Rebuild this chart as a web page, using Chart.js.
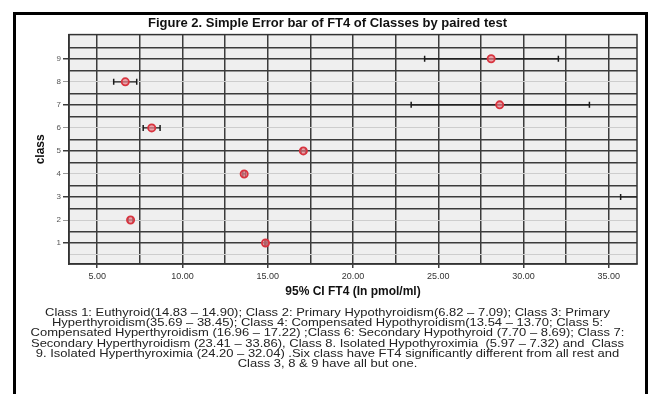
<!DOCTYPE html>
<html>
<head>
<meta charset="utf-8">
<script src="https://cdn.jsdelivr.net/npm/chart.js@4.4.1/dist/chart.umd.min.js"></script>
<style>
  html, body { margin: 0; padding: 0; background: #fff; }
</style>
</head>
<body>
<canvas id="grafico" width="654" height="394"></canvas>
<script>
// Clases y su IC 95% de FT4 (pmol/ml)
const classes = [1, 2, 3, 4, 5, 6, 7, 8, 9];
const ciLow  = [14.83, 6.82, 35.69, 13.54, 16.96, 7.70, 23.41, 5.97, 24.20];
const ciHigh = [14.90, 7.09, 38.45, 13.70, 17.22, 8.69, 33.86, 7.32, 32.04];
const means  = [14.87, 6.96, 37.07, 13.62, 17.09, 8.20, 28.60, 6.65, 28.10];

const xTicks = [5, 7.5, 10, 12.5, 15, 17.5, 20, 22.5, 25, 27.5, 30, 32.5, 35];
const yTicks = [0.5, 1, 1.5, 2, 2.5, 3, 3.5, 4, 4.5, 5, 5.5, 6, 6.5, 7, 7.5, 8, 8.5, 9, 9.5];

const nota = [
    'Class 1: Euthyroid(14.83 \u2013 14.90); Class 2: Primary Hypothyroidism(6.82 \u2013 7.09); Class 3: Primary',
    'Hyperthyroidism(35.69 \u2013 38.45); Class 4: Compensated Hypothyroidism(13.54 \u2013 13.70; Class 5:',
    'Compensated Hyperthyroidism (16.96 \u2013 17.22) ;Class 6: Secondary Hypothyroid (7.70 \u2013 8.69); Class 7:',
    'Secondary Hyperthyroidism (23.41 \u2013 33.86), Class 8. Isolated Hypothyroximia  (5.97 \u2013 7.32) and  Class',
    '9. Isolated Hyperthyroximia (24.20 \u2013 32.04) .Six class have FT4 significantly different from all rest and',
    'Class 3, 8 & 9 have all but one.'
];

const fuente = "'Liberation Sans', Arial, sans-serif";

// fondo gris del área, marco negro exterior
const marco = {
    id: 'marco',
    beforeDraw(chart) {
        const { ctx, chartArea: a } = chart;
        ctx.save();
        ctx.fillStyle = '#fff';
        ctx.fillRect(0, 0, chart.width, chart.height);
        ctx.fillStyle = '#efefef';
        ctx.fillRect(a.left, a.top, a.width, a.height);
        ctx.strokeStyle = '#000';
        ctx.lineWidth = 3;
        ctx.strokeRect(14.5, 13.5, 632, 400);
        ctx.restore();
    }
};

// barras de error (IC 95%)
const barrasError = {
    id: 'barrasError',
    beforeDatasetsDraw(chart) {
        const { ctx, chartArea: a, scales: { x, y } } = chart;
        ctx.save();
        ctx.strokeStyle = '#333';
        ctx.lineWidth = 1.5;
        ctx.strokeRect(a.left, a.top, a.width, a.height);
        ctx.beginPath();
        ctx.rect(a.left, a.top, a.width, a.height);
        ctx.clip();
        ctx.strokeStyle = '#1a1a1a';
        classes.forEach((c, i) => {
            const yy = y.getPixelForValue(c);
            const x0 = x.getPixelForValue(ciLow[i]);
            const x1 = x.getPixelForValue(ciHigh[i]);
            ctx.lineWidth = 1.2;
            ctx.beginPath();
            ctx.moveTo(x0, yy); ctx.lineTo(x1, yy);
            ctx.stroke();
            ctx.lineWidth = 1.5;
            ctx.beginPath();
            ctx.moveTo(x0, yy - 3); ctx.lineTo(x0, yy + 3);
            ctx.moveTo(x1, yy - 3); ctx.lineTo(x1, yy + 3);
            ctx.stroke();
        });
        ctx.restore();
    }
};

// nota al pie, texto algo ensanchado como en el original
const notaPie = {
    id: 'notaPie',
    afterDraw(chart) {
        const { ctx } = chart;
        ctx.save();
        ctx.fillStyle = '#222';
        ctx.font = '11px ' + fuente;
        ctx.textAlign = 'center';
        ctx.textBaseline = 'middle';
        nota.forEach((linea, i) => {
            ctx.save();
            ctx.translate(327.5, 313 + i * 10.2);
            ctx.scale(1.18, 1);
            ctx.fillText(linea, 0, 0);
            ctx.restore();
        });
        ctx.restore();
    }
};

const esPar = (v) => (Number.isInteger(v) && v % 2 === 0) || v === 0.5;

new Chart(document.getElementById('grafico'), {
    type: 'scatter',
    data: {
        datasets: [{
            label: 'FT4',
            data: classes.map((c, i) => ({ x: means[i], y: c })),
            pointRadius: 3.6,
            pointBorderWidth: 1.8,
            borderColor: '#d8343f',
            backgroundColor: 'rgba(235, 130, 140, 0.7)',
            clip: 0
        }]
    },
    options: {
        responsive: false,
        animation: false,
        layout: { padding: { top: 13, left: 18, right: 17, bottom: 90 } },
        plugins: {
            legend: { display: false },
            tooltip: { enabled: false },
            title: {
                display: true,
                text: 'Figure 2. Simple Error bar of FT4 of Classes by paired test',
                color: '#111',
                font: { family: fuente, size: 13, weight: 'bold' },
                padding: { top: 3, bottom: 3 }
            }
        },
        scales: {
            x: {
                type: 'linear',
                min: 3.35,
                max: 36.65,
                afterBuildTicks: (s) => { s.ticks = xTicks.map(v => ({ value: v })); },
                afterFit: (s) => { s.height = 40; },
                ticks: {
                    autoSkip: false,
                    maxRotation: 0,
                    padding: 3,
                    color: '#333',
                    font: { family: fuente, size: 9 },
                    callback: (v) => v % 5 === 0 ? v.toFixed(2) : ''
                },
                grid: {
                    color: '#3c3c3c',
                    lineWidth: 1.5,
                    tickLength: 4,
                    tickColor: (c) => c.tick && c.tick.value % 5 === 0 ? '#3c3c3c' : 'rgba(0,0,0,0)'
                },
                border: { display: true, color: '#333', width: 1.5 },
                title: {
                    display: true,
                    text: '95% CI FT4 (In pmol/ml)',
                    color: '#111',
                    font: { family: fuente, size: 12, weight: 'bold' },
                    padding: { top: 0, bottom: 5 }
                }
            },
            y: {
                type: 'linear',
                min: 0.09,
                max: 10.05,
                afterBuildTicks: (s) => { s.ticks = yTicks.map(v => ({ value: v })); },
                afterFit: (s) => { s.width = 51; },
                ticks: {
                    autoSkip: false,
                    padding: 2,
                    color: '#555',
                    font: { family: fuente, size: 8 },
                    callback: (v) => Number.isInteger(v) ? v : ''
                },
                grid: {
                    color: (c) => c.tick && esPar(c.tick.value) ? '#cdcdcd' : '#3c3c3c',
                    lineWidth: (c) => c.tick && esPar(c.tick.value) ? 1 : 1.5,
                    tickLength: 6,
                    tickColor: (c) => c.tick && Number.isInteger(c.tick.value)
                        ? (esPar(c.tick.value) ? '#999' : '#3c3c3c') : 'rgba(0,0,0,0)'
                },
                border: { display: true, color: '#333', width: 1.5 },
                title: {
                    display: true,
                    text: 'class',
                    color: '#111',
                    font: { family: fuente, size: 12, weight: 'bold' },
                    padding: { top: 15, bottom: 0 }
                }
            }
        }
    },
    plugins: [marco, barrasError, notaPie]
});
</script>
</body>
</html>
